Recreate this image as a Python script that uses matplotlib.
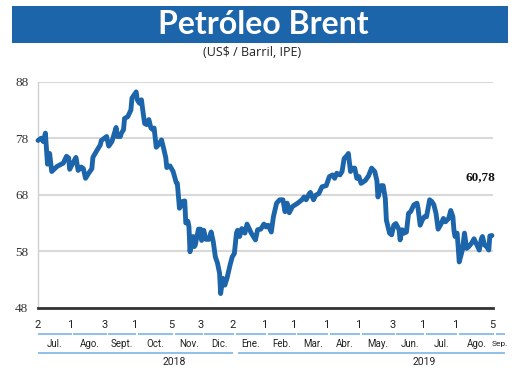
# System Modules
import matplotlib
matplotlib.use("Agg")
import matplotlib.pyplot as plt
import matplotlib.dates  as mdates
import pandas            as pd
from matplotlib.patches import Rectangle

##===============================================================================
# Data (Brent, US$ / barril)

dates = [
	"2018-07-02","2018-07-05","2018-07-07","2018-07-09","2018-07-11","2018-07-13","2018-07-15",
	"2018-07-20","2018-07-26","2018-07-29","2018-07-31","2018-08-01","2018-08-04","2018-08-07",
	"2018-08-09","2018-08-12","2018-08-14","2018-08-16","2018-08-19","2018-08-22","2018-08-23",
	"2018-08-27","2018-08-30","2018-08-31","2018-09-05","2018-09-07","2018-09-10","2018-09-14",
	"2018-09-15","2018-09-18","2018-09-19","2018-09-21","2018-09-22","2018-09-25","2018-09-28",
	"2018-09-29","2018-10-03","2018-10-04","2018-10-06","2018-10-08","2018-10-09","2018-10-11",
	"2018-10-13","2018-10-15","2018-10-17","2018-10-19","2018-10-20","2018-10-22","2018-10-24",
	"2018-10-27","2018-10-29","2018-10-31","2018-11-01","2018-11-04","2018-11-07","2018-11-10",
	"2018-11-11","2018-11-13","2018-11-15","2018-11-16","2018-11-18","2018-11-19","2018-11-21",
	"2018-11-22","2018-11-23","2018-11-24","2018-11-26","2018-11-27","2018-11-28","2018-12-01",
	"2018-12-03","2018-12-04","2018-12-06","2018-12-08","2018-12-11","2018-12-13","2018-12-15",
	"2018-12-17","2018-12-19","2018-12-21","2018-12-22","2018-12-24","2018-12-26","2018-12-28",
	"2018-12-31","2019-01-02","2019-01-04","2019-01-06","2019-01-07","2019-01-09","2019-01-11",
	"2019-01-14","2019-01-16","2019-01-18","2019-01-20","2019-01-24","2019-01-26","2019-01-29",
	"2019-02-01","2019-02-03","2019-02-05","2019-02-08","2019-02-10","2019-02-13","2019-02-16",
	"2019-02-19","2019-02-21","2019-02-23","2019-02-25","2019-02-28","2019-03-05","2019-03-09",
	"2019-03-11","2019-03-13","2019-03-16","2019-03-17","2019-03-20","2019-03-22","2019-03-25",
	"2019-03-28","2019-04-01","2019-04-04","2019-04-07","2019-04-09","2019-04-11","2019-04-14",
	"2019-04-16","2019-04-18","2019-04-21","2019-04-22","2019-04-24","2019-04-26","2019-04-28",
	"2019-04-30","2019-05-02","2019-05-04","2019-05-08","2019-05-11","2019-05-14","2019-05-17",
	"2019-05-19","2019-05-20","2019-05-23","2019-05-25","2019-05-27","2019-05-28","2019-05-31",
	"2019-06-02","2019-06-04","2019-06-06","2019-06-09","2019-06-10","2019-06-12","2019-06-14",
	"2019-06-16","2019-06-18","2019-06-20","2019-06-23","2019-06-26","2019-06-27","2019-06-29",
	"2019-07-01","2019-07-03","2019-07-05","2019-07-08","2019-07-10","2019-07-12","2019-07-14",
	"2019-07-16","2019-07-19","2019-07-21","2019-07-23","2019-07-26","2019-07-28","2019-07-30",
	"2019-07-31","2019-08-01","2019-08-03","2019-08-04","2019-08-05","2019-08-08","2019-08-10",
	"2019-08-12","2019-08-14","2019-08-17","2019-08-19","2019-08-21","2019-08-24","2019-08-26",
	"2019-08-27","2019-08-29","2019-08-31","2019-09-02","2019-09-03","2019-09-05",
]

prices = [
	77.6, 78.0, 77.4, 78.9, 73.4, 75.3, 72.1,
	73.0, 73.6, 74.8, 74.5, 72.5, 73.6, 74.6,
	72.3, 72.9, 72.6, 70.9, 71.8, 72.6, 74.6,
	75.9, 76.8, 77.6, 78.3, 76.6, 77.4, 79.9,
	78.3, 78.3, 78.9, 79.5, 81.5, 81.8, 83.0,
	85.1, 86.2, 84.8, 84.2, 84.8, 83.3, 80.6,
	80.4, 81.3, 79.8, 79.5, 79.8, 76.4, 76.8,
	77.7, 76.2, 74.6, 72.8, 73.1, 72.1, 70.1,
	70.0, 65.6, 66.2, 66.8, 66.9, 63.0, 63.3,
	62.3, 57.9, 59.4, 60.6, 58.8, 59.1, 61.9,
	61.9, 59.9, 61.7, 60.1, 60.1, 61.4, 59.7,
	57.0, 55.9, 54.1, 50.5, 53.2, 52.0, 53.2,
	55.6, 57.0, 57.6, 61.2, 61.7, 60.6, 62.0,
	61.2, 62.8, 62.0, 61.2, 60.0, 61.8, 61.9,
	62.8, 62.3, 62.6, 61.4, 64.1, 66.5, 67.1,
	67.1, 65.0, 66.5, 64.8, 65.9, 66.5, 67.1,
	67.6, 67.1, 68.2, 68.4, 67.1, 67.9, 68.2,
	69.4, 69.6, 71.2, 71.5, 70.9, 71.8, 71.5,
	72.1, 74.4, 75.0, 75.3, 72.1, 72.7, 72.7,
	70.9, 71.2, 70.0, 70.5, 71.3, 72.7, 72.1,
	70.5, 67.6, 69.6, 69.6, 67.3, 63.5, 61.2,
	60.9, 62.6, 62.9, 61.8, 60.0, 61.8, 61.2,
	61.4, 64.7, 65.0, 66.2, 66.5, 65.6, 62.6,
	63.5, 64.1, 64.1, 67.1, 66.8, 66.2, 64.7,
	61.9, 62.9, 63.8, 63.2, 63.8, 65.2, 64.1,
	61.7, 60.6, 61.2, 58.8, 56.1, 58.2, 61.2,
	58.5, 58.8, 59.5, 60.2, 59.4, 58.2, 60.2,
	60.6, 59.1, 58.8, 58.2, 60.7, 60.78,
]

# first day shown for each month, plus the end of the last bar
tick_dates  = ["2018-07-02","2018-08-01","2018-09-03","2018-10-01","2018-11-05","2018-12-03",
               "2019-01-02","2019-02-01","2019-03-01","2019-04-01","2019-05-01","2019-06-03",
               "2019-07-01","2019-08-01","2019-09-05"]
tick_labels = ["2","1","3","1","5","3","2","1","1","1","1","3","1","1","5"]
month_names = ["Jul.","Ago.","Sept.","Oct.","Nov.","Dic.","Ene.","Feb.","Mar.","Abr.",
               "May.","Jun.","Jul.","Ago.","Sep."]
axis_end    = "2019-09-17"

years       = ["2018","2019"]
year_bounds = ["2018-07-02","2019-01-03","2019-09-17"]

last_label  = "60,78"
y_ticks     = [48, 58, 68, 78, 88]

##===============================================================================
# Plot

BLUE  = "#1c65aa"
LBLUE = "#86bbe6"

x      = pd.to_datetime(dates)
ticks  = pd.to_datetime(tick_dates + [axis_end])
ybound = pd.to_datetime(year_bounds)
day    = pd.Timedelta(days=1)

fig = plt.figure(figsize=(5.2, 3.9), dpi=100)

# title banner
fig.patches.append(Rectangle((12/520, 1-43/390), 496/520, 37/390,
                             transform=fig.transFigure, facecolor=BLUE, edgecolor="none"))
fig.text(0.507, 1-24.5/390, "Petróleo Brent", color="white", fontsize=23,
         fontweight="bold", family="Lato", ha="center", va="center")
fig.text(0.485, 1-53/390, "(US$ / Barril, IPE)", fontsize=9, family="Open Sans",
         ha="center", va="center", color="#222222")

ax = fig.add_axes([38/520, 1-307.7/390, 455/520, 226/390])
ax.plot(x, prices, color=BLUE, lw=3.5, solid_joinstyle="round",
        solid_capstyle="round", clip_on=False, zorder=3)

ax.set_xlim(pd.Timestamp("2018-07-02"), pd.Timestamp("2019-09-06"))
ax.set_ylim(48, 88)
ax.set_yticks(y_ticks)
ax.set_yticklabels([str(v) for v in y_ticks], family="Liberation Serif", fontsize=9.5,
                   color="#333333")
ax.tick_params(axis="y", length=0, pad=7)
ax.set_xticks([])
ax.yaxis.grid(True, color="#d9d9d9", lw=1.5)
ax.set_axisbelow(True)

for s in ["top", "right"]:
	ax.spines[s].set_visible(False)
ax.spines["left"].set_color("#d0d0d0")
ax.spines["left"].set_linewidth(1.0)
ax.spines["bottom"].set_color("#333333")
ax.spines["bottom"].set_linewidth(2.0)

# value of the last point
ax.annotate(last_label, (x[-1], prices[-1]), xytext=(-8, 42), textcoords="offset points",
            ha="center", va="center", fontsize=9.5, fontweight="bold",
            family="Liberation Serif", color="#111111")

# custom date axis: day, month bars, month names, year bars, years
tr = ax.get_xaxis_transform()
for i in range(len(tick_labels)):
	ax.text(ticks[i], -0.075, tick_labels[i], transform=tr, ha="center", va="center",
	        fontsize=8, family="Roboto", color="#222222")
	start = ticks[i] + (0 if i == 0 else 3.5) * day
	end   = ticks[i+1] + 2 * day
	if i == len(tick_labels) - 1:
		end = ticks[i+1]
	ax.plot([start, end], [-0.115, -0.115], transform=tr, color=LBLUE, lw=1.3,
	        clip_on=False, solid_capstyle="butt")
	mid = start + (end - start) / 2
	ax.text(mid, -0.161, month_names[i], transform=tr, ha="center", va="center",
	        fontsize=6 if i == len(tick_labels) - 1 else 7, family="Roboto", color="#222222")

for i in range(len(years)):
	start = ybound[i] + (0 if i == 0 else 4) * day
	end   = ybound[i+1]
	ax.plot([start, end], [-0.199, -0.199], transform=tr, color=LBLUE, lw=1.3,
	        clip_on=False, solid_capstyle="butt")
	ax.text(start + (end - start) * 0.7, -0.240, years[i], transform=tr, ha="center",
	        va="center", fontsize=7.5, family="Roboto", color="#222222")

plt.savefig("out.png", dpi=100)
